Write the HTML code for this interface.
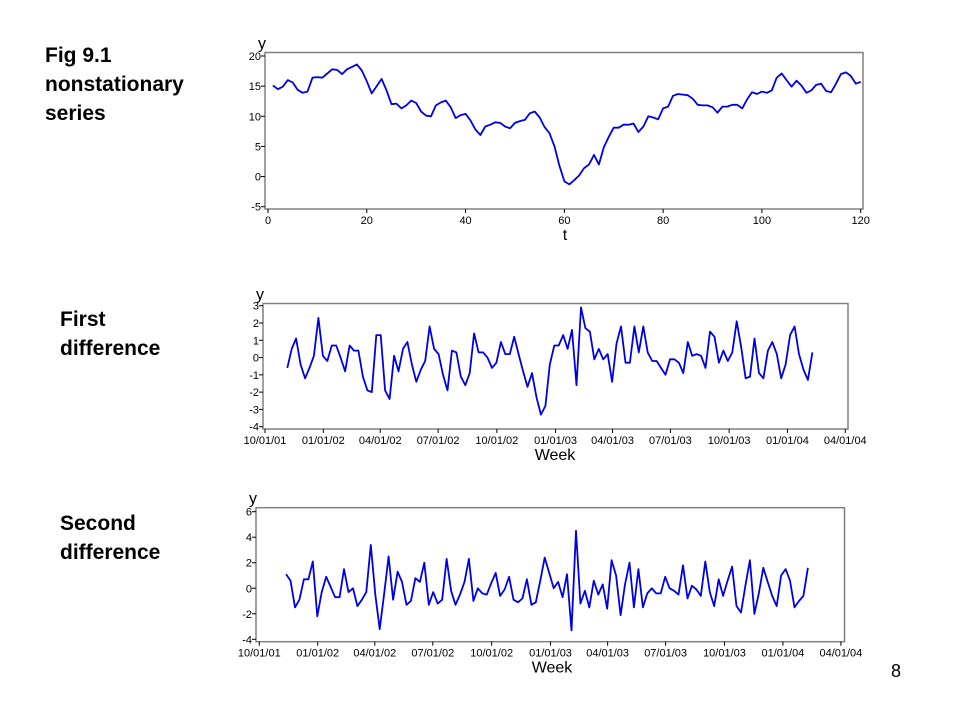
<!DOCTYPE html>
<html><head><meta charset="utf-8"><style>
body{margin:0;background:#fff;font-family:"Liberation Sans",Arial,sans-serif}
#wrap{position:relative;width:960px;height:720px;overflow:hidden}
.ttl{position:absolute;font-weight:bold;font-size:21px;line-height:29px;color:#000}
</style></head><body>
<div id="wrap">
<div class="ttl" style="left:45px;top:41px">Fig 9.1<br>nonstationary<br>series</div>
<div class="ttl" style="left:60px;top:305px">First<br>difference</div>
<div class="ttl" style="left:60px;top:509px">Second<br>difference</div>
<div style="position:absolute;left:891px;top:661px;font-size:18px">8</div>
<svg id="svg" width="960" height="720" style="position:absolute;left:0;top:0"></svg>
</div>
<script>
const levelValues=[15.1,14.5,14.9,16.0,15.6,14.4,13.9,14.1,16.4,16.5,16.4,17.1,17.8,17.7,17.0,17.8,18.2,18.6,17.6,15.8,13.8,15.0,16.2,14.3,12.0,12.1,11.3,11.8,12.6,12.2,10.8,10.1,10.0,11.8,12.3,12.6,11.5,9.7,10.2,10.4,9.3,7.8,6.9,8.3,8.6,9.0,8.9,8.3,8.0,8.9,9.2,9.4,10.5,10.8,9.8,8.2,7.2,5.0,1.8,-0.8,-1.3,-0.6,0.2,1.4,2.0,3.6,2.0,4.9,6.6,8.1,8.1,8.6,8.6,8.8,7.4,8.3,10.0,9.8,9.5,11.3,11.6,13.4,13.7,13.6,13.5,12.9,11.9,11.8,11.8,11.5,10.6,11.6,11.6,11.9,11.9,11.3,12.8,14.0,13.7,14.1,13.9,14.3,16.4,17.1,16.0,14.9,15.9,15.1,13.9,14.3,15.2,15.4,14.2,14.0,15.4,17.0,17.3,16.7,15.4,15.7];
const levelTicksX=[0,20,40,60,80,100,120];
const levelTicksY=[20,15,10,5,0,-5];
const diff1Values=[-0.6,0.5,1.1,-0.4,-1.2,-0.6,0.1,2.3,0.1,-0.2,0.7,0.7,0.0,-0.8,0.7,0.4,0.4,-1.1,-1.9,-2.0,1.3,1.3,-1.9,-2.4,0.1,-0.8,0.5,0.9,-0.4,-1.4,-0.7,-0.2,1.8,0.5,0.2,-1.0,-1.9,0.4,0.3,-1.1,-1.6,-0.9,1.4,0.3,0.3,0.0,-0.6,-0.3,0.9,0.2,0.2,1.2,0.2,-0.8,-1.7,-0.9,-2.3,-3.3,-2.8,-0.4,0.7,0.7,1.3,0.5,1.6,-1.6,2.9,1.7,1.5,-0.1,0.5,-0.1,0.2,-1.4,0.8,1.8,-0.3,-0.3,1.8,0.3,1.8,0.3,-0.2,-0.2,-0.6,-1.0,-0.1,-0.1,-0.3,-0.9,0.9,0.1,0.2,0.1,-0.6,1.5,1.2,-0.3,0.4,-0.2,0.3,2.1,0.6,-1.2,-1.1,1.1,-0.9,-1.2,0.4,0.9,0.2,-1.2,-0.4,1.3,1.8,0.2,-0.7,-1.3,0.3];
const diff1StartWeek=5;
const diff1TicksY=[3,2,1,0,-1,-2,-3,-4];
const diff2Values=[1.1,0.6,-1.5,-0.9,0.7,0.7,2.1,-2.2,-0.3,0.9,0.1,-0.7,-0.7,1.5,-0.3,0.0,-1.4,-0.9,-0.3,3.4,-0.5,-3.2,-0.4,2.5,-0.9,1.3,0.5,-1.3,-1.0,0.8,0.5,2.0,-1.3,-0.3,-1.2,-0.9,2.3,-0.2,-1.3,-0.5,0.5,2.3,-1.0,0.0,-0.4,-0.5,0.4,1.2,-0.6,-0.1,0.9,-0.9,-1.1,-0.8,0.7,-1.3,-1.1,0.6,2.4,1.2,0.0,0.5,-0.7,1.1,-3.3,4.5,-1.2,-0.2,-1.5,0.6,-0.5,0.3,-1.6,2.2,1.0,-2.1,0.3,2.0,-1.5,1.5,-1.5,-0.4,0.0,-0.4,-0.4,0.9,0.0,-0.2,-0.5,1.8,-0.8,0.2,-0.1,-0.6,2.1,-0.3,-1.4,0.7,-0.6,0.6,1.7,-1.4,-1.9,0.2,2.2,-2.0,-0.4,1.6,0.5,-0.6,-1.4,1.0,1.5,0.6,-1.5,-1.0,-0.6,1.6];
const diff2StartWeek=6;
const diff2TicksY=[6,4,2,0,-2,-4];
const dateTickLabels=["10/01/01","01/01/02","04/01/02","07/01/02","10/01/02","01/01/03","04/01/03","07/01/03","10/01/03","01/01/04","04/01/04"];
const dateTickWeeks=[0,13.1,25.9,38.9,52.1,65.3,78.1,91.1,104.3,117.4,130.4];

const NS="http://www.w3.org/2000/svg";
const svg=document.getElementById('svg');
function mk(tag,attrs,parent){const e=document.createElementNS(NS,tag);for(const k in attrs)e.setAttribute(k,attrs[k]);(parent||svg).appendChild(e);return e;}
function txt(s,x,y,anchor,size,parent){const t=mk('text',{x:x,y:y,'text-anchor':anchor,'font-size':size,'font-family':'"Liberation Sans",Arial,sans-serif',fill:'#000'},parent);t.textContent=s;return t;}

function chart(cfg){
  const g=mk('g',{});
  
  
  const fr=mk('rect',{x:cfg.L,y:cfg.T,width:cfg.R-cfg.L,height:cfg.B-cfg.T,fill:'none',stroke:'#808080','stroke-width':1.5},g);
  
  
  const ya=mk('g',{},g);
  
  
  cfg.yTicks.forEach(v=>{const y=cfg.ys(v);mk('line',{x1:cfg.L-4,x2:cfg.L,y1:y,y2:y,stroke:'#000'},ya);const t=txt(String(v),cfg.L-4,y+4,'end',11,ya);});
  const yt=txt('y',cfg.L-3,cfg.T-4,'middle',16,g);
  
  
  const xa=mk('g',{},g);
  
  
  cfg.xTicks.forEach((v,i)=>{const x=cfg.xs(v);mk('line',{x1:x,x2:x,y1:cfg.B,y2:cfg.B+4,stroke:'#000'},xa);const t=txt(cfg.xLabels[i],x,cfg.B+15,'middle',11,xa);});
  const xt=txt(cfg.xTitle,cfg.xTitleX,cfg.B+31,'middle',16,g);
  
  
  const pts=cfg.values.map((v,i)=>cfg.xs(cfg.xOf(i)).toFixed(1)+','+cfg.ys(v).toFixed(1)).join(' ');
  const pl=mk('polyline',{points:pts,fill:'none',stroke:'#0000e6','stroke-width':1.8,'stroke-linejoin':'round'},g);
  
  
}
chart({name:'level-chart',L:265,R:863,T:52.5,B:209,
  ys:v=>56+(20-v)*(206.7-56)/25, xs:t=>268+t*(860.7-268)/120,
  yTicks:levelTicksY,xTicks:levelTicksX,xLabels:levelTicksX.map(String),
  xTitle:'t',xTitleX:565,values:levelValues,xOf:i=>i+1});
chart({name:'first-difference-chart',L:263,R:848,T:303.5,B:429,
  ys:v=>305.7+(3-v)*(426.7-305.7)/7, xs:w=>265+w*4.45,
  yTicks:diff1TicksY,xTicks:dateTickWeeks,xLabels:dateTickLabels,
  xTitle:'Week',xTitleX:555,values:diff1Values,xOf:i=>diff1StartWeek+i});
chart({name:'second-difference-chart',L:256,R:844.5,T:507.7,B:641.7,
  ys:v=>511.7+(6-v)*(639.3-511.7)/10, xs:w=>259.3+w*4.46,
  yTicks:diff2TicksY,xTicks:dateTickWeeks,xLabels:dateTickLabels,
  xTitle:'Week',xTitleX:552,values:diff2Values,xOf:i=>diff2StartWeek+i});
</script>
</body></html>
